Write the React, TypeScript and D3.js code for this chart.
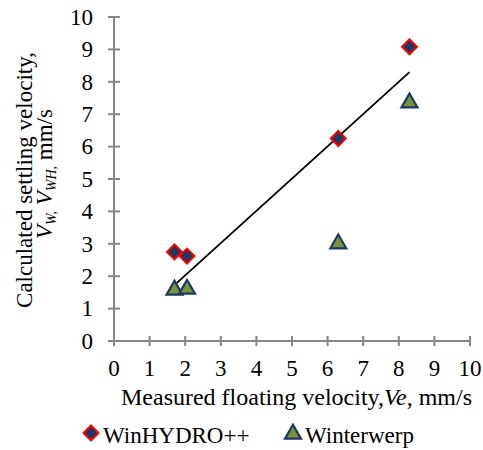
import React from "react";
import * as d3 from "d3";

// measured floating velocity Ve (mm/s)
const measured = [1.7, 2.05, 6.3, 8.3];
// calculated settling velocities (mm/s)
const winHydro = [2.75, 2.62, 6.25, 9.08];
const winterwerp = [1.62, 1.65, 3.05, 7.4];
// 1:1 line drawn between the extreme measured values
const lineX = [1.72, 8.3];
const lineY = [1.75, 8.3];
const xTicks = [0, 1, 2, 3, 4, 5, 6, 7, 8, 9, 10];
const yTicks = [0, 1, 2, 3, 4, 5, 6, 7, 8, 9, 10];

const W = 483;
const H = 450;
const FONT = "'Liberation Serif', 'Times New Roman', serif";
const AXIS = "#868686";
const txt = { fontFamily: FONT, fontSize: 23 };

export default function App() {
  const x = d3.scaleLinear().domain([0, 10]).range([114, 470]);
  const y = d3.scaleLinear().domain([0, 10]).range([341, 17]);

  const diamond = d3.symbol().type(d3.symbolSquare).size(112)()!;
  const triangle = d3.symbol().type(d3.symbolTriangle).size(110)()!;
  const line = d3
    .line<number>()
    .x((d) => x(d))
    .y((_, i) => y(lineY[i]));

  return (
    <svg width={W} height={H} style={{ position: "absolute", left: 0, top: 0, background: "#fff" }}>
      {/* axes */}
      <line x1={x(0)} x2={x(10)} y1={y(0)} y2={y(0)} stroke={AXIS} strokeWidth={2} />
      <line x1={x(0)} x2={x(0)} y1={y(0)} y2={y(10)} stroke={AXIS} strokeWidth={2} />
      {xTicks.map((t) => (
        <g key={"x" + t}>
          <line x1={x(t)} x2={x(t)} y1={y(0) - 5} y2={y(0) + 5} stroke={AXIS} strokeWidth={2} />
          <text x={x(t)} y={376} style={txt} textAnchor="middle">
            {t}
          </text>
        </g>
      ))}
      {yTicks.map((t) => (
        <g key={"y" + t}>
          <line x1={x(0) - 6} x2={x(0) + 6} y1={y(t)} y2={y(t)} stroke={AXIS} strokeWidth={2} />
          <text x={93} y={y(t)} dy="0.34em" style={txt} textAnchor="end">
            {t}
          </text>
        </g>
      ))}

      {/* trend line */}
      <path d={line(lineX) || ""} fill="none" stroke="#000" strokeWidth={1.8} />

      {/* WinHYDRO++ */}
      {measured.map((m, i) => (
        <path
          key={"d" + i}
          d={diamond}
          transform={`translate(${x(m)},${y(winHydro[i])}) rotate(45)`}
          fill="#1F3864"
          stroke="#FF0000"
          strokeWidth={2}
        />
      ))}
      {/* Winterwerp */}
      {measured.map((m, i) => (
        <path
          key={"t" + i}
          d={triangle}
          transform={`translate(${x(m)},${y(winterwerp[i]) + 1.5})`}
          fill="#77933C"
          stroke="#1F3864"
          strokeWidth={2.2}
        />
      ))}

      {/* axis titles */}
      <text x={296.5} y={405} style={{ ...txt, fontSize: 24 }} textAnchor="middle">
        Measured floating velocity,<tspan fontStyle="italic">Ve</tspan>, mm/s
      </text>
      <text transform="translate(32,180) rotate(-90)" style={txt} textAnchor="middle">
        Calculated settling velocity,
      </text>
      <text transform="translate(52,174) rotate(-90)" style={txt} textAnchor="middle">
        <tspan fontStyle="italic">V</tspan>
        <tspan fontStyle="italic" fontSize={14} dy={4}>W,</tspan>
        <tspan dy={-4}> </tspan>
        <tspan fontStyle="italic">V</tspan>
        <tspan fontStyle="italic" fontSize={14} dy={4}>WH,</tspan>
        <tspan dy={-4}> mm/s</tspan>
      </text>

      {/* legend */}
      <path d={diamond} transform="translate(91,433) rotate(45)" fill="#1F3864" stroke="#FF0000" strokeWidth={2} />
      <text x={103} y={443} style={txt}>
        WinHYDRO++
      </text>
      <path d={triangle} transform="translate(293,434)" fill="#77933C" stroke="#1F3864" strokeWidth={2.2} />
      <text x={305} y={443} style={txt}>
        Winterwerp
      </text>
    </svg>
  );
}
